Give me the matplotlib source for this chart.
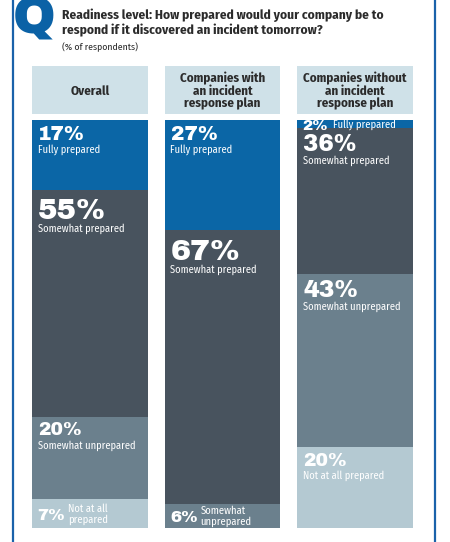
import matplotlib.pyplot as plt
import numpy as np

# Survey data (% of respondents)
groups = ['Overall', 'Companies with\nan incident\nresponse plan', 'Companies without\nan incident\nresponse plan']
levels = ['Fully prepared', 'Somewhat prepared', 'Somewhat unprepared', 'Not at all prepared']
overall = [17, 55, 20, 7]
with_plan = [27, 67, 6, 0]
without_plan = [2, 36, 43, 20]

# short labels used when a segment is too thin for a stacked label
inline_labels = {'Fully prepared': 'Fully prepared',
                 'Somewhat unprepared': 'Somewhat\nunprepared',
                 'Not at all prepared': 'Not at all\nprepared'}

colors = ['#0b66a6', '#48535e', '#6b808d', '#b4c9d2']
# percent font size per segment (pt)
pct_sizes = [[14.5, 21, 13.5, 12], [14.5, 21.5, 12, 0], [11, 16.5, 17, 13.5]]

narrow = ['Fira Sans Condensed', 'Archivo Narrow', 'DejaVu Sans']
heavy = ['Archivo Black', 'DejaVu Sans']
W, H = 450, 542
fig = plt.figure(figsize=(W / 100, H / 100), dpi=100)

# overlay axes in pixel coordinates for frame and titles
ov = fig.add_axes([0, 0, 1, 1])
ov.set_xlim(0, W)
ov.set_ylim(H, 0)
ov.axis('off')
ov.plot([12.5, 12.5], [0, H], color='#1a62aa', lw=1.6)
ov.plot([434.5, 434.5], [0, H], color='#1a62aa', lw=1.6)
ov.text(34, 33, 'Q', color='#0b62a6', fontsize=37, family=heavy,
        ha='center', va='baseline')
ov.text(62, 19, 'Readiness level: How prepared would your company be to',
        family=narrow, fontweight='bold', fontsize=9.6, color='#2b2b2b', va='baseline')
ov.text(62, 34, 'respond if it discovered an incident tomorrow?',
        family=narrow, fontweight='bold', fontsize=9.6, color='#2b2b2b', va='baseline')
ov.text(62, 50, '(% of respondents)', family=narrow, fontsize=7, color='#2b2b2b', va='baseline')

x = np.arange(len(groups))
bw = 0.875
xl = (-bw / 2, 2 + bw / 2)

# header boxes
hax = fig.add_axes([32 / W, (H - 114) / H, 381 / W, 48 / H])
hax.bar(x, [1] * 3, width=bw, color='#cfe1e8')
hax.set_xlim(*xl)
hax.set_ylim(0, 1)
hax.axis('off')
for i, g in enumerate(groups):
    hax.text(i, 0.48, g, ha='center', va='center', family=narrow, fontweight='bold',
             fontsize=9.3, color='#2b2b2b', linespacing=1.0)

# stacked bars, each column scaled to fill the full height
ax = fig.add_axes([32 / W, (H - 528) / H, 381 / W, 408 / H])
ax.set_xlim(*xl)
ax.set_ylim(100, 0)
ax.axis('off')
data = np.array([overall, with_plan, without_plan], dtype=float)
shares = data / data.sum(axis=1, keepdims=True) * 100
px_per_unit = 408 / 100
bottom = np.zeros(3)
for j, lev in enumerate(levels):
    ax.bar(x, shares[:, j], bottom=bottom, width=bw, color=colors[j], edgecolor='none')
    for i in range(3):
        v = data[i, j]
        if v == 0:
            continue
        left = i - bw / 2
        top = bottom[i]
        size = pct_sizes[i][j]
        cap = size  # cap height in px, roughly
        seg_px = shares[i, j] * px_per_unit
        if v < 10:
            mid = seg_px / 2
            ax.annotate(f'{v:.0f}%', (left, top), xytext=(5.5 * 0.72, -(mid + cap / 2) * 0.72),
                        textcoords='offset points', color='white', fontsize=size,
                        family=heavy, va='baseline')
            ax.annotate(inline_labels[lev], (left, top), xytext=(36 * 0.72, -(mid + 0.5) * 0.72),
                        textcoords='offset points', color='white', fontsize=7.6,
                        family=narrow, va='center', linespacing=0.95)
        else:
            pad = 5 + (size - 13) * 0.4
            base = pad + cap
            ax.annotate(f'{v:.0f}%', (left, top), xytext=(6 * 0.72, -base * 0.72),
                        textcoords='offset points', color='white', fontsize=size,
                        family=heavy, va='baseline')
            ax.annotate(lev, (left, top), xytext=(5.5 * 0.72, -(base + 4.5) * 0.72),
                        textcoords='offset points', color='white', fontsize=7.5,
                        family=narrow, va='top')
    bottom += shares[:, j]

fig.savefig('out.png', dpi=100)
